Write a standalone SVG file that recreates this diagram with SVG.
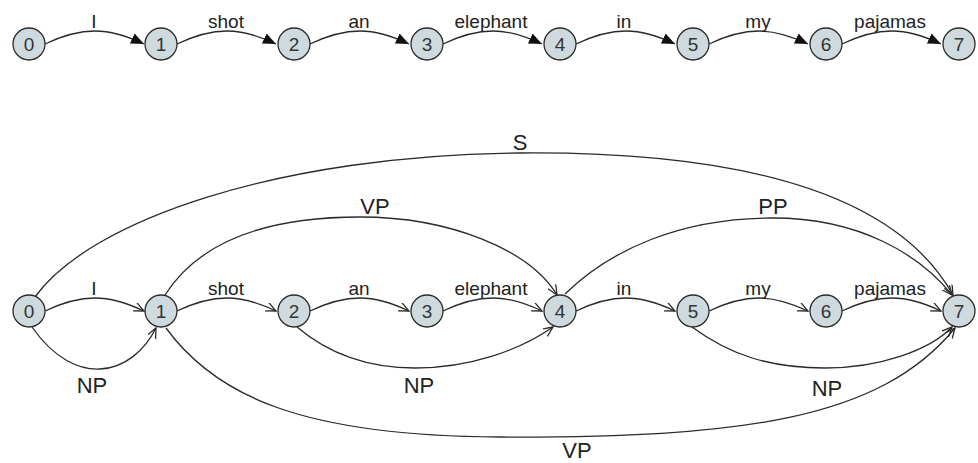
<svg xmlns="http://www.w3.org/2000/svg" width="978" height="463" viewBox="0 0 978 463">
<style>
.n circle{fill:#cfdadf;stroke:#2a2a2a;stroke-width:1.3}
.n text{font-family:"Liberation Sans",Arial,sans-serif;font-size:19px;fill:#333;text-anchor:middle}
.e path{fill:none;stroke:#2a2a2a;stroke-width:1.3}
.t .e path{marker-end:url(#fa)}
.b .e path{marker-end:url(#oa)}
.lab{font-family:"Liberation Sans",Arial,sans-serif;font-size:19px;fill:#222;text-anchor:middle}
.big{font-family:"Liberation Sans",Arial,sans-serif;font-size:22px;fill:#222;text-anchor:middle}
</style>
<defs>
<marker id="fa" markerUnits="userSpaceOnUse" markerWidth="14" markerHeight="12" refX="13" refY="5.5" orient="auto" viewBox="0 0 14 12"><path d="M0,0 L13,5.5 L0,11 z" fill="#111"/></marker>
<marker id="oa" markerUnits="userSpaceOnUse" markerWidth="12" markerHeight="10" refX="10" refY="4.5" orient="auto" viewBox="0 0 12 10"><path d="M0,0 L10,4.5 L0,9" fill="none" stroke="#2a2a2a" stroke-width="1.3"/></marker>
</defs>
<rect width="978" height="463" fill="#fff"/>

<g class="t">
<g id="top-edges" class="e">
<path d="M45 44 C66 34,81 31,95 31 C112 31,127 36,144 44"/>
<path d="M177 44 C198 34,213 31,227 31 C244 31,259 36,276 44"/>
<path d="M310 44 C331 34,346 31,360 31 C377 31,392 36,409 44"/>
<path d="M443 44 C464 34,479 31,493 31 C510 31,525 36,542 44"/>
<path d="M576 44 C597 34,612 31,626 31 C643 31,658 36,675 44"/>
<path d="M709 44 C730 34,745 31,759 31 C776 31,791 36,808 44"/>
<path d="M842 44 C863 34,878 31,892 31 C909 31,924 36,941 44"/>
</g>
<g id="top-labels">
<text class="lab" x="94" y="28">I</text>
<text class="lab" x="226" y="28">shot</text>
<text class="lab" x="359" y="28">an</text>
<text class="lab" x="491" y="28">elephant</text>
<text class="lab" x="624" y="28">in</text>
<text class="lab" x="758" y="28">my</text>
<text class="lab" x="890" y="28">pajamas</text>
</g>
<g id="t0" class="n"><circle cx="29" cy="44" r="16"/><text x="29" y="51">0</text></g>
<g id="t1" class="n"><circle cx="161" cy="44" r="16"/><text x="161" y="51">1</text></g>
<g id="t2" class="n"><circle cx="294" cy="44" r="16"/><text x="294" y="51">2</text></g>
<g id="t3" class="n"><circle cx="427" cy="44" r="16"/><text x="427" y="51">3</text></g>
<g id="t4" class="n"><circle cx="560" cy="44" r="16"/><text x="560" y="51">4</text></g>
<g id="t5" class="n"><circle cx="693" cy="44" r="16"/><text x="693" y="51">5</text></g>
<g id="t6" class="n"><circle cx="826" cy="44" r="16"/><text x="826" y="51">6</text></g>
<g id="t7" class="n"><circle cx="959" cy="44" r="16"/><text x="959" y="51">7</text></g>
</g>

<g class="b">
<g id="bottom-edges" class="e">
<path d="M45 311 C66 301,81 298,95 298 C112 298,127 303,144 311"/>
<path d="M177 311 C198 301,213 298,227 298 C244 298,259 303,276 311"/>
<path d="M310 311 C331 301,346 298,360 298 C377 298,392 303,409 311"/>
<path d="M443 311 C464 301,479 298,493 298 C510 298,525 303,542 311"/>
<path d="M576 311 C597 301,612 298,626 298 C643 298,658 303,675 311"/>
<path d="M709 311 C730 301,745 298,759 298 C776 298,791 303,808 311"/>
<path d="M842 311 C863 301,878 298,892 298 C909 298,924 303,941 311"/>
<path d="M35 297 C90 220,280 155,520 153 C760 151,900 200,953 295"/>
<path d="M165 295 C200 240,270 217,360 217 C450 217,530 250,557 295"/>
<path d="M565 294 C610 250,680 218,773 218 C860 218,920 255,952 295"/>
<path d="M32 327 C55 360,80 370,100 369 C125 368,145 350,156 328"/>
<path d="M297 327 C330 355,370 368,415 368 C470 368,520 350,553 327"/>
<path d="M692 327 C730 355,770 368,825 368 C880 368,930 350,952 327"/>
<path d="M166 328 C215 395,300 436,500 437 C740 438,880 420,955 328"/>
</g>
<g id="bottom-labels">
<text class="lab" x="94" y="295">I</text>
<text class="lab" x="226" y="295">shot</text>
<text class="lab" x="359" y="295">an</text>
<text class="lab" x="491" y="295">elephant</text>
<text class="lab" x="624" y="295">in</text>
<text class="lab" x="758" y="295">my</text>
<text class="lab" x="890" y="295">pajamas</text>
<text class="big" x="520" y="150">S</text>
<text class="big" x="375" y="214">VP</text>
<text class="big" x="773" y="214">PP</text>
<text class="big" x="92" y="393">NP</text>
<text class="big" x="419" y="393">NP</text>
<text class="big" x="827" y="396">NP</text>
<text class="big" x="577" y="458">VP</text>
</g>
<g id="b0" class="n"><circle cx="29" cy="311" r="16"/><text x="29" y="318">0</text></g>
<g id="b1" class="n"><circle cx="161" cy="311" r="16"/><text x="161" y="318">1</text></g>
<g id="b2" class="n"><circle cx="294" cy="311" r="16"/><text x="294" y="318">2</text></g>
<g id="b3" class="n"><circle cx="427" cy="311" r="16"/><text x="427" y="318">3</text></g>
<g id="b4" class="n"><circle cx="560" cy="311" r="16"/><text x="560" y="318">4</text></g>
<g id="b5" class="n"><circle cx="693" cy="311" r="16"/><text x="693" y="318">5</text></g>
<g id="b6" class="n"><circle cx="826" cy="311" r="16"/><text x="826" y="318">6</text></g>
<g id="b7" class="n"><circle cx="959" cy="311" r="16"/><text x="959" y="318">7</text></g>
</g>
</svg>
